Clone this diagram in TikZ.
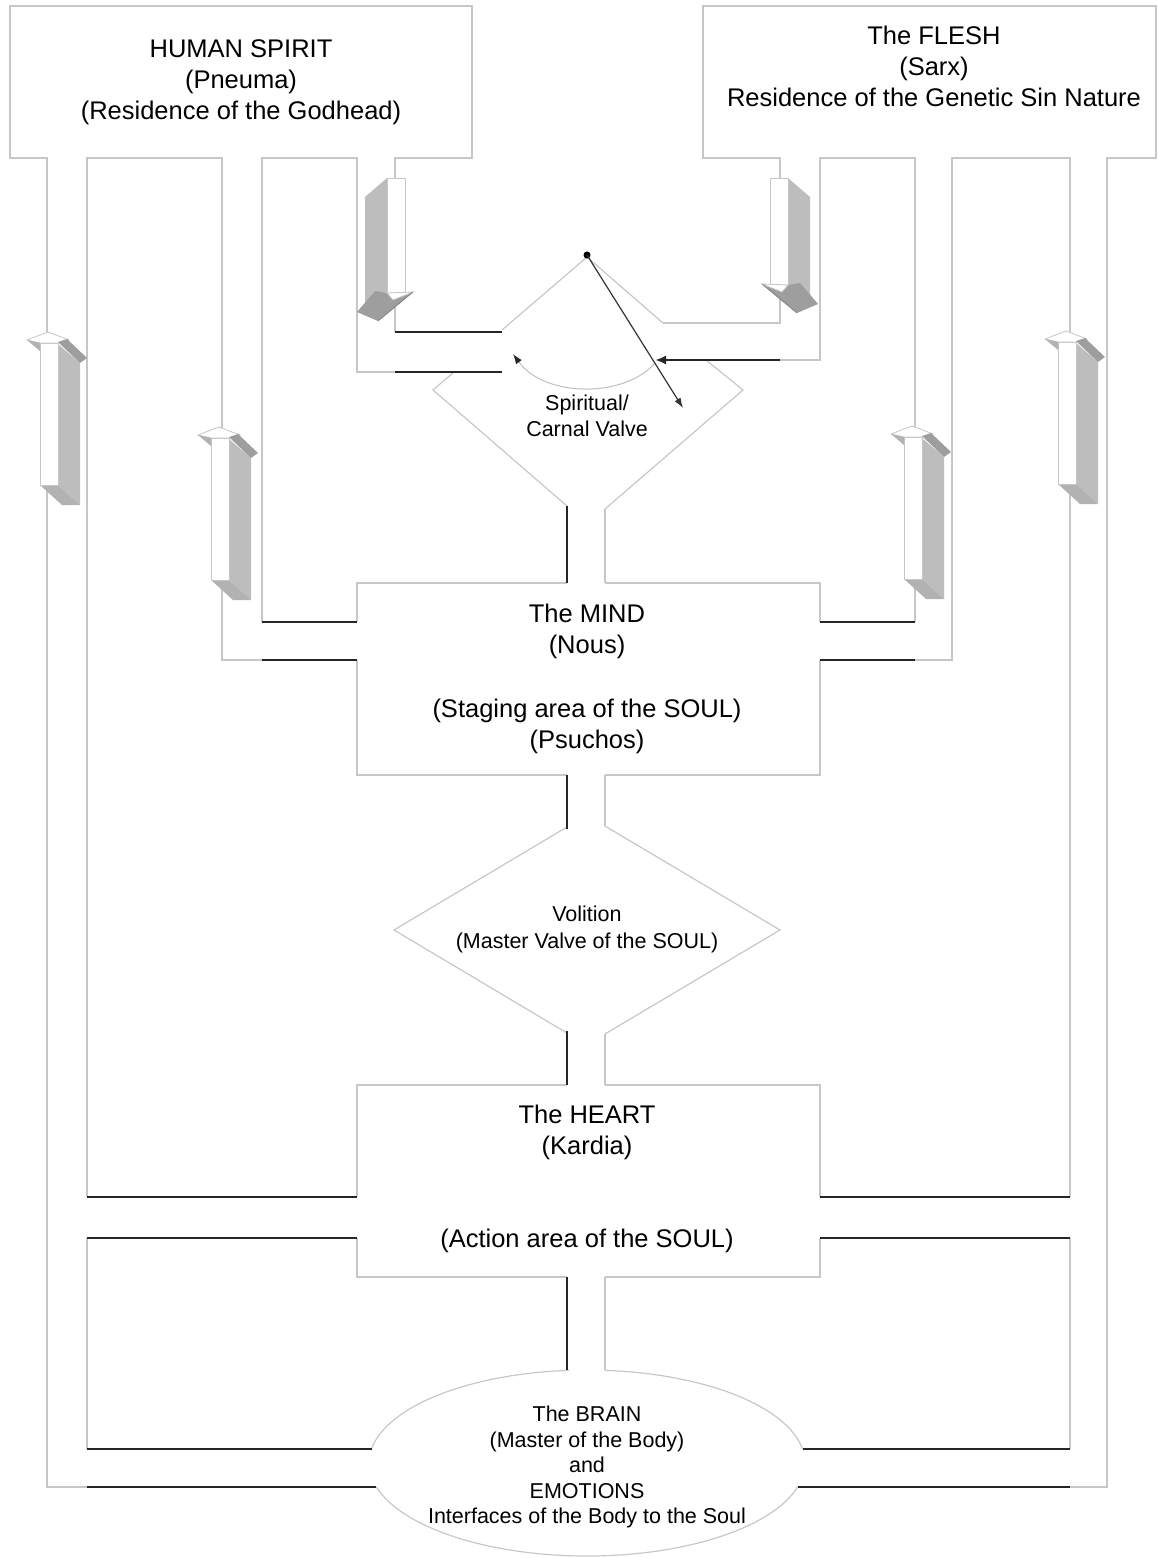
\documentclass[tikz,border=0pt]{standalone}
\usepackage{fontspec}
\setmainfont{Liberation Sans}
\usetikzlibrary{arrows.meta}

% shaded block arrows lying in the channels
\tikzset{
  pics/uparr/.style={code={
    \fill[arrside] (18,1) -- (40,20) -- (40,162) -- (18,142) -- cycle;
    \fill[arrbase] (0,142) -- (18,142) -- (40,162) -- (22,162) -- cycle;
    \filldraw[arrfront] (0,0) rectangle (18,142);
    \filldraw[arrfront] (-13,-3) -- (8,-11) -- (29,-3) -- (18,0) -- (0,0) -- cycle;
    \fill[arrwing] (18,-1) -- (27,-4) -- (47,15) -- (40,20) -- cycle;
    \fill[arrbase] (-13,-3) -- (0,0) -- (0,8) -- cycle;
  }},
  pics/downarr/.style={code={
    \fill[arrside] (18,0) -- (40,19) -- (40,#1+14) -- (18,#1) -- cycle;
    \filldraw[arrfront] (0,0) rectangle (18,#1);
    \fill[arrwing] (-8,#1-1) -- (27,#1+28) -- (48,#1+19) -- (30,#1-2) -- (18,#1) -- cycle;
    \filldraw[arrfront] (-8,#1-1) -- (18,#1) -- (12,#1+7) -- cycle;
    \draw[black!50, line width=0.8pt] (-8,#1-1) -- (27,#1+28);
  }}
}

\begin{document}
\begin{tikzpicture}[x=1pt, y=-1pt,
  wall/.style={draw=black!22, line width=1.2pt},
  darkwall/.style={draw=black!85, line width=2.2pt},
  lblbig/.style={align=center, inner sep=0pt, font=\fontsize{25.5}{31}\selectfont},
  lblsmall/.style={align=center, inner sep=0pt, font=\fontsize{21.5}{26}\selectfont},
  arrfront/.style={fill=white, draw=black!22, line width=0.8pt},
  arrside/.style={fill=black!26},
  arrbase/.style={fill=black!30},
  arrwing/.style={fill=black!38},
  needle/.style={draw=black!80, line width=1.2pt, -{Latex[length=10pt,width=7pt]}},
  swing/.style={draw=black!25, line width=1pt, -{Latex[length=10pt,width=7pt,color=black!85]}}
]
\useasboundingbox (0,0) rectangle (1157,1558);

% channels on the spirit side
\draw[wall] (87,1487) -- (47,1487) -- (47,158) -- (10,158) -- (10,6) -- (472,6) -- (472,158) -- (395,158) -- (395,332);
\draw[wall] (87,1197) -- (87,158) -- (222,158) -- (222,660) -- (262,660);
\draw[wall] (262,622) -- (262,158) -- (357,158) -- (357,372) -- (395,372);
\draw[wall] (87,1238) -- (87,1449);
% channels on the flesh side
\draw[wall] (1070,1487) -- (1107,1487) -- (1107,158) -- (1156,158) -- (1156,6) -- (703,6) -- (703,158) -- (780,158) -- (780,323) -- (663,323);
\draw[wall] (1070,1197) -- (1070,158) -- (952,158) -- (952,660) -- (915,660);
\draw[wall] (915,622) -- (915,158) -- (820,158) -- (820,360) -- (780,360);
\draw[wall] (1070,1238) -- (1070,1449);

% spiritual/carnal valve
\draw[wall] (502,330) -- (587,257) -- (663,323);
\draw[wall] (454,372) -- (433,390) -- (567,506);
\draw[wall] (706,360) -- (743,390) -- (605,509);
% mind
\draw[wall] (567,583) -- (357,583) -- (357,622);
\draw[wall] (357,660) -- (357,775) -- (567,775);
\draw[wall] (605,775) -- (820,775) -- (820,660);
\draw[wall] (820,622) -- (820,583) -- (605,583);
% volition
\draw[wall] (567,827) -- (394,930) -- (567,1033);
\draw[wall] (605,826) -- (780,930) -- (605,1034);
% heart
\draw[wall] (567,1085) -- (357,1085) -- (357,1197);
\draw[wall] (357,1238) -- (357,1277) -- (567,1277);
\draw[wall] (605,1277) -- (820,1277) -- (820,1238);
\draw[wall] (820,1197) -- (820,1085) -- (605,1085);
% centre channel
\draw[wall] (605,509) -- (605,583) (605,775) -- (605,826) (605,1034) -- (605,1085) (605,1277) -- (605,1370);
% brain
\draw[wall] (587,1463) ++(14.96:218 and 93) arc[start angle=14.96, end angle=165.04, x radius=218, y radius=93];
\draw[wall] (587,1463) ++(188.66:218 and 93) arc[start angle=188.66, end angle=265.3, x radius=218, y radius=93];
\draw[wall] (587,1463) ++(274.7:218 and 93) arc[start angle=274.7, end angle=351.34, x radius=218, y radius=93];

% dark walls
\draw[darkwall] (567,506) -- (567,583) (567,775) -- (567,829) (567,1031) -- (567,1085) (567,1277) -- (567,1370);
\draw[darkwall] (395,332) -- (502,332) (395,372) -- (502,372);
\draw[darkwall] (262,622) -- (357,622) (262,660) -- (357,660);
\draw[darkwall] (820,622) -- (915,622) (820,660) -- (915,660);
\draw[darkwall] (87,1197) -- (357,1197) (87,1238) -- (357,1238);
\draw[darkwall] (820,1197) -- (1070,1197) (820,1238) -- (1070,1238);
\draw[darkwall] (87,1449) -- (371.5,1449) (87,1487) -- (376.4,1487);
\draw[darkwall] (802.5,1449) -- (1070,1449) (797.6,1487) -- (1070,1487);
\draw[darkwall, -{Latex[length=11pt,width=9pt]}] (780,360) -- (655,360);

% flow arrows
\pic at (40,343) {uparr};
\pic at (211,438) {uparr};
\pic at (904,437) {uparr};
\pic at (1058,342) {uparr};
\pic at (770,178) {downarr=107};
\pic[xscale=-1] at (405,178) {downarr=115};

% valve switch
\node[circle, fill=black, inner sep=0pt, minimum size=7pt] (pivot) at (587,255) {};
\coordinate (tip) at (683,408);
\coordinate (swingL) at (513,354);
\coordinate (swingR) at (655,363);
\draw[swing] (swingR) .. controls (625,398) and (545,398) .. (swingL);
\draw[needle] (pivot.center) -- (tip);

% labels
\node[lblbig] (spirit) at (241,82) {HUMAN SPIRIT\\(Pneuma)\\(Residence of the Godhead)};
\node[lblbig] (flesh) at (934,66) {The FLESH\\(Sarx)\\Residence of the Genetic Sin Nature};
\node[lblsmall] (valve) at (587,416) {Spiritual/\\Carnal Valve};
\node[lblbig] (mind) at (587,631) {The MIND\\(Nous)};
\node[lblbig] (staging) at (587,726) {(Staging area of the SOUL)\\(Psuchos)};
\node[lblsmall, font=\fontsize{21.5}{27}\selectfont] (volition) at (587,929) {Volition\\(Master Valve of the SOUL)};
\node[lblbig] (heart) at (587,1132) {The HEART\\(Kardia)};
\node[lblbig] (action) at (587,1241) {(Action area of the SOUL)};
\node[lblsmall, font=\fontsize{21.5}{25.5}\selectfont] (brain) at (587,1467) {The BRAIN\\(Master of the Body)\\and\\EMOTIONS\\Interfaces of the Body to the Soul};
\end{tikzpicture}
\end{document}
